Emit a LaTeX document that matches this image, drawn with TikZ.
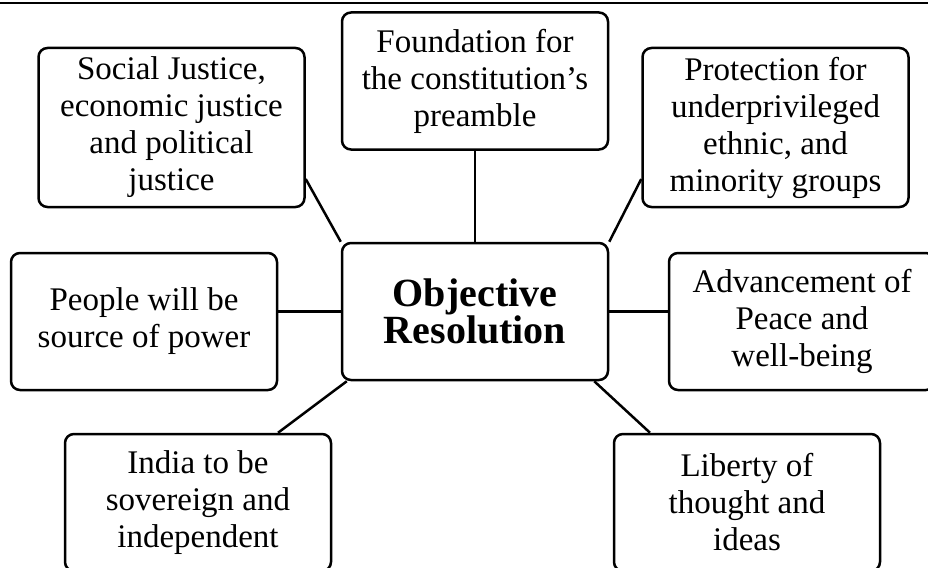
\documentclass[tikz,border=0pt]{standalone}
\usepackage{fontspec}
\setmainfont{Liberation Serif}
\begin{document}
\begin{tikzpicture}[
    x=1pt, y=-1pt,
    item/.style={draw, line width=2.5pt, rounded corners=9pt, align=center,
                 inner sep=2pt, minimum width=266pt, minimum height=137pt,
                 font=\fontsize{33}{37}\selectfont},
    tall/.style={minimum height=159pt},
    hub/.style={item, font=\fontsize{40}{37}\selectfont\bfseries},
    link/.style={line width=2.5pt}
  ]
    \useasboundingbox (0,0) rectangle (928,567);
    \clip (0,0) rectangle (928,567);
    \draw[link] (0,3) -- (928,3);

    \node[hub]       (obj)    at (475,311.5) {Objective\\Resolution};
    \node[item]      (found)  at (475,81)    {Foundation for\\the constitution’s\\preamble};
    \node[item,tall] (social) at (171.5,127.5) {Social Justice,\\economic justice\\and political\\justice};
    \node[item,tall] (protect) at (775.5,127.5) {Protection for\\underprivileged\\ethnic, and\\minority groups};
    \node[item]      (people) at (144,321.5) {People will be\\source of power};
    \node[item]      (peace)  at (802,321.5) {Advancement of\\Peace and\\well-being};
    \node[item]      (india)  at (198,502.5) {India to be\\sovereign and\\independent};
    \node[item]      (liberty) at (747,502.5) {Liberty of\\thought and\\ideas};

    \draw[link] (obj.north) -- (found.south);
    \draw[link] (obj.north west) -- (social.-21.5);
    \draw[link] (obj.north east) -- (protect.201.5);
    \draw[link] (obj.west) -- (obj.west -| people.east);
    \draw[link] (obj.east) -- (obj.east -| peace.west);
    \draw[link] ([xshift=6pt]obj.south west) -- ([xshift=80pt]india.north);
    \draw[link] ([xshift=-15pt]obj.south east) -- ([xshift=-97pt]liberty.north);
  \end{tikzpicture}
\end{document}
